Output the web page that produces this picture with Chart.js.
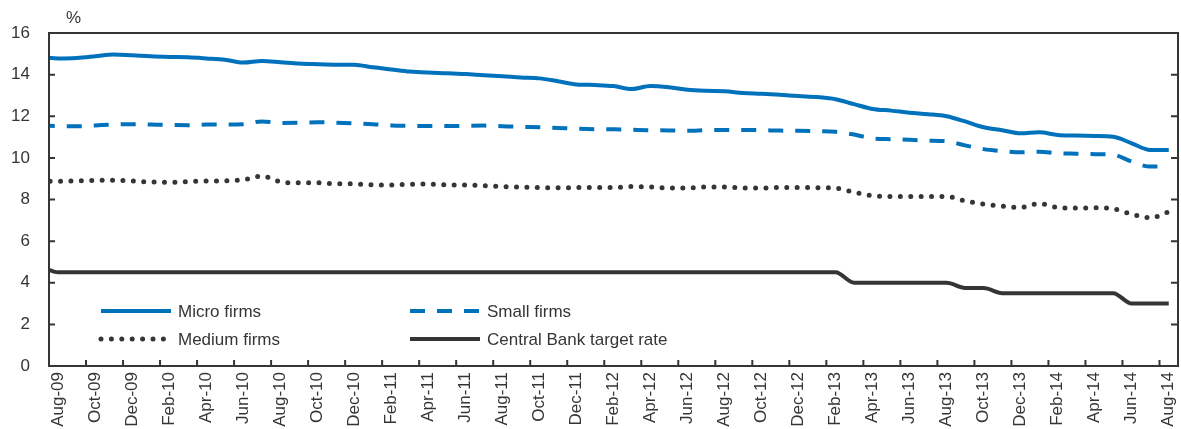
<!DOCTYPE html>
<html>
<head>
<meta charset="utf-8">
<script src="https://cdn.jsdelivr.net/npm/chart.js@4/dist/chart.umd.min.js"></script>
<style>
  html, body { margin: 0; padding: 0; background: #fff; }
</style>
</head>
<body>
<canvas id="chart" width="1181" height="429"></canvas>
<script>
// Monthly series, Jul-09 .. Aug-14. Jul-09 sits just left of the axis and is clipped.
const MONTHS = [
  "Jul-09", "Aug-09", "Sep-09", "Oct-09", "Nov-09", "Dec-09",
  "Jan-10", "Feb-10", "Mar-10", "Apr-10", "May-10", "Jun-10", "Jul-10", "Aug-10", "Sep-10", "Oct-10", "Nov-10", "Dec-10",
  "Jan-11", "Feb-11", "Mar-11", "Apr-11", "May-11", "Jun-11", "Jul-11", "Aug-11", "Sep-11", "Oct-11", "Nov-11", "Dec-11",
  "Jan-12", "Feb-12", "Mar-12", "Apr-12", "May-12", "Jun-12", "Jul-12", "Aug-12", "Sep-12", "Oct-12", "Nov-12", "Dec-12",
  "Jan-13", "Feb-13", "Mar-13", "Apr-13", "May-13", "Jun-13", "Jul-13", "Aug-13", "Sep-13", "Oct-13", "Nov-13", "Dec-13",
  "Jan-14", "Feb-14", "Mar-14", "Apr-14", "May-14", "Jun-14", "Jul-14", "Aug-14"
];
const FIRST_MONTH = "Aug-09";

const MICRO = [
  14.85, 14.78, 14.80, 14.88, 14.97, 14.93, 14.88, 14.85, 14.83, 14.78, 14.72, 14.58,
  14.66, 14.60, 14.53, 14.50, 14.48, 14.47, 14.35, 14.25, 14.15, 14.10, 14.07, 14.03,
  13.97, 13.92, 13.86, 13.82, 13.68, 13.53, 13.50, 13.45, 13.31, 13.45, 13.39, 13.27,
  13.22, 13.20, 13.12, 13.08, 13.03, 12.97, 12.92, 12.82, 12.58, 12.35, 12.27, 12.17,
  12.10, 12.00, 11.75, 11.47, 11.33, 11.18, 11.23, 11.10, 11.07, 11.05, 11.02, 10.70,
  10.38, 10.38
];
const SMALL = [
  11.55, 11.53, 11.52, 11.56, 11.60, 11.62, 11.60, 11.58, 11.57, 11.60, 11.60, 11.62,
  11.75, 11.68, 11.69, 11.71, 11.69, 11.66, 11.62, 11.56, 11.54, 11.53, 11.53, 11.54,
  11.55, 11.52, 11.49, 11.47, 11.44, 11.40, 11.38, 11.37, 11.35, 11.33, 11.32, 11.30,
  11.33, 11.34, 11.34, 11.33, 11.31, 11.30, 11.28, 11.25, 11.12, 10.93, 10.90, 10.87,
  10.83, 10.80, 10.60, 10.42, 10.33, 10.27, 10.30, 10.22, 10.20, 10.18, 10.15, 9.82,
  9.58, 9.62
];
const MEDIUM = [
  8.88, 8.88, 8.89, 8.92, 8.92, 8.89, 8.84, 8.83, 8.86, 8.89, 8.90, 8.95,
  9.13, 8.85, 8.80, 8.80, 8.76, 8.75, 8.71, 8.70, 8.73, 8.74, 8.70, 8.70,
  8.66, 8.62, 8.60, 8.57, 8.56, 8.57, 8.58, 8.58, 8.62, 8.60, 8.55, 8.55,
  8.60, 8.60, 8.55, 8.55, 8.58, 8.58, 8.57, 8.55, 8.35, 8.18, 8.15, 8.15,
  8.14, 8.14, 7.93, 7.78, 7.68, 7.62, 7.80, 7.62, 7.59, 7.60, 7.55, 7.30,
  7.12, 7.40
];
const TARGET_RATE = [
  4.80, 4.50, 4.50, 4.50, 4.50, 4.50, 4.50, 4.50, 4.50, 4.50, 4.50, 4.50,
  4.50, 4.50, 4.50, 4.50, 4.50, 4.50, 4.50, 4.50, 4.50, 4.50, 4.50, 4.50,
  4.50, 4.50, 4.50, 4.50, 4.50, 4.50, 4.50, 4.50, 4.50, 4.50, 4.50, 4.50,
  4.50, 4.50, 4.50, 4.50, 4.50, 4.50, 4.50, 4.50, 4.00, 4.00, 4.00, 4.00,
  4.00, 4.00, 3.75, 3.75, 3.50, 3.50, 3.50, 3.50, 3.50, 3.50, 3.50, 3.00,
  3.00, 3.00
];

const Y_MIN = 0;
const Y_MAX = 16;
const Y_STEP = 2;
const UNIT_LABEL = "%";

const BLUE = "#0071bb";
const DARK = "#353535";
const FONT = "'Liberation Sans', Arial, sans-serif";

// Inward tick marks + closed frame, drawn from the library's scales.
const framePlugin = {
  id: "frame",
  afterDatasetsDraw(chart) {
    const ctx = chart.ctx;
    const a = chart.chartArea;
    const x = chart.scales.x;
    const y = chart.scales.y;
    ctx.save();
    ctx.strokeStyle = DARK;
    ctx.lineWidth = 2;
    ctx.strokeRect(a.left, a.top, a.right - a.left, a.bottom - a.top);
    ctx.beginPath();
    y.ticks.forEach(function (t) {
      const py = y.getPixelForValue(t.value);
      ctx.moveTo(a.left, py); ctx.lineTo(a.left + 6, py);
      ctx.moveTo(a.right - 7, py); ctx.lineTo(a.right, py);
    });
    x.ticks.forEach(function (t) {
      if (!isLabelled(t.value)) return;
      const px = x.getPixelForValue(t.value - 0.5);
      ctx.moveTo(px, a.bottom); ctx.lineTo(px, a.bottom - 6);
    });
    ctx.stroke();

    ctx.fillStyle = DARK;
    ctx.font = "17px " + FONT;
    ctx.textBaseline = "middle";
    ctx.textAlign = "left";
    ctx.fillText(UNIT_LABEL, 66, 18);
    ctx.restore();
  },
};

// Two-column legend inside the plot, like the original.
const legendPlugin = {
  id: "boxLegend",
  afterDraw(chart) {
    const ctx = chart.ctx;
    const cols = [101, 410];
    const rows = [311, 339];
    ctx.save();
    chart.data.datasets.forEach(function (ds, i) {
      const cx = cols[i % 2];
      const cy = rows[Math.floor(i / 2)];
      ctx.beginPath();
      ctx.strokeStyle = ds.borderColor;
      ctx.lineWidth = ds.borderWidth;
      ctx.lineCap = ds.borderCapStyle || "butt";
      ctx.setLineDash(ds.borderDash || []);
      ctx.moveTo(cx, cy);
      ctx.lineTo(cx + 70, cy);
      ctx.stroke();
      ctx.setLineDash([]);
      ctx.fillStyle = DARK;
      ctx.font = "17px " + FONT;
      ctx.textBaseline = "middle";
      ctx.fillText(ds.label, cx + 77, cy + 1);
    });
    ctx.restore();
  },
};

const firstIndex = MONTHS.indexOf(FIRST_MONTH);
function isLabelled(index) {
  return index >= firstIndex && (index - firstIndex) % 2 === 0;
}

new Chart(document.getElementById("chart"), {
  type: "line",
  data: {
    labels: MONTHS,
    datasets: [
      { label: "Micro firms", data: MICRO, borderColor: BLUE, borderWidth: 4 },
      { label: "Small firms", data: SMALL, borderColor: BLUE, borderWidth: 4, borderDash: [15, 12] },
      { label: "Medium firms", data: MEDIUM, borderColor: DARK, borderWidth: 5, borderDash: [0, 10.4], borderCapStyle: "round" },
      { label: "Central Bank target rate", data: TARGET_RATE, borderColor: DARK, borderWidth: 4 },
    ],
  },
  options: {
    responsive: false,
    animation: false,
    events: [],
    layout: { padding: { top: 33, right: 3, left: 0, bottom: 0 } },
    elements: {
      point: { radius: 0 },
      line: { tension: 0, cubicInterpolationMode: "monotone", borderJoinStyle: "round", fill: false },
    },
    plugins: { legend: { display: false }, tooltip: { enabled: false } },
    scales: {
      x: {
        type: "category",
        min: FIRST_MONTH,
        offset: true,
        grid: { display: false, drawTicks: false },
        border: { display: false },
        afterFit: function (scale) {
          scale.height = 63;
          scale.paddingLeft = 0;
          scale.paddingRight = 0;
        },
        ticks: {
          autoSkip: false,
          maxRotation: 90,
          minRotation: 90,
          padding: 6,
          color: DARK,
          font: { family: FONT, size: 17 },
          callback: function (value) {
            return isLabelled(value) ? this.getLabelForValue(value) : "";
          },
        },
      },
      y: {
        min: Y_MIN,
        max: Y_MAX,
        grid: { display: false, drawTicks: false },
        border: { display: false },
        afterFit: function (scale) {
          scale.width = 49;
          scale.paddingTop = 0;
          scale.paddingBottom = 0;
        },
        ticks: {
          stepSize: Y_STEP,
          padding: 19,
          color: DARK,
          font: { family: FONT, size: 17 },
        },
      },
    },
  },
  plugins: [framePlugin, legendPlugin],
});
</script>
</body>
</html>
